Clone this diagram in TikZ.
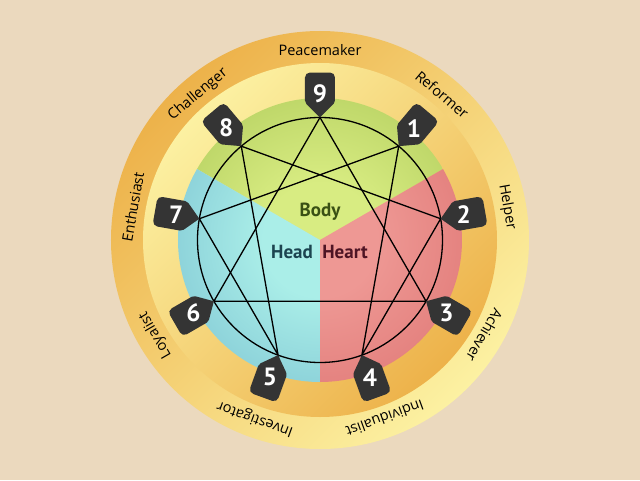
\documentclass[tikz,border=0pt]{standalone}
\usepackage{fontspec}
\setmainfont{Open Sans}
\newfontfamily\numfont{PT Sans}
\usepackage{tikz}
\usetikzlibrary{calc}

\definecolor{bgbeige}{RGB}{235,217,190}
\definecolor{ringdark}{RGB}{237,178,74}
\definecolor{ringlight}{RGB}{252,241,162}
\definecolor{bodyin}{RGB}{216,236,130}
\definecolor{bodyout}{RGB}{150,182,66}
\definecolor{heartin}{RGB}{238,152,148}
\definecolor{heartout}{RGB}{213,96,95}
\definecolor{headin}{RGB}{170,238,232}
\definecolor{headout}{RGB}{96,168,196}
\definecolor{badgegray}{RGB}{52,52,52}
\definecolor{bodytext}{RGB}{58,80,20}
\definecolor{headtext}{RGB}{28,68,80}
\definecolor{hearttext}{RGB}{78,20,36}

\pgfdeclareradialshading{bodyshade}{\pgfpoint{0bp}{0bp}}{color(0bp)=(bodyin); color(10bp)=(bodyin); color(50bp)=(bodyout)}
\pgfdeclareradialshading{heartshade}{\pgfpoint{0bp}{0bp}}{color(0bp)=(heartin); color(10bp)=(heartin); color(50bp)=(heartout)}
\pgfdeclareradialshading{headshade}{\pgfpoint{0bp}{0bp}}{color(0bp)=(headin); color(10bp)=(headin); color(50bp)=(headout)}

\begin{document}
\begin{tikzpicture}[
        x=1pt, y=1pt,
        every node/.style={align=center, inner sep=0pt},
        typelabel/.style={font=\fontsize{14.5}{16}\selectfont, text=black},
        triadword/.style={font=\numfont\bfseries\fontsize{19}{20}\selectfont},
        badge/.style={fill=badgegray},
        num/.style={text=white, font=\numfont\bfseries\fontsize{25}{26}\selectfont},
        ennealine/.style={line width=1.3pt, black}
    ]
        \useasboundingbox (-320,-240) rectangle (320,240);
        \fill[bgbeige] (-320,-240) rectangle (320,240);
        \coordinate (c) at (0,0);

        % rings
        \shade[top color=ringdark, bottom color=ringlight, shading angle=45] (c) circle (209);
        \shade[top color=ringlight, bottom color=ringdark, shading angle=45] (c) circle (177);

        % centres
        \begin{scope}
            \clip (c) -- (30:142) arc[start angle=30, end angle=150, radius=142] -- cycle;
            \shade[shading=bodyshade] (c) circle (142);
        \end{scope}
        \begin{scope}
            \clip (c) -- (-90:142) arc[start angle=-90, end angle=30, radius=142] -- cycle;
            \shade[shading=heartshade] (c) circle (142);
        \end{scope}
        \begin{scope}
            \clip (c) -- (150:142) arc[start angle=150, end angle=270, radius=142] -- cycle;
            \shade[shading=headshade] (c) circle (142);
        \end{scope}

        \node[triadword, text=bodytext] (body) at (0,28) {Body};
        \node[triadword, text=headtext] (head) at (-28,-12) {Head};
        \node[triadword, text=hearttext] (heart) at (25,-12) {Heart};

        % enneagram
        \coordinate (p9) at (90:122.5);
        \coordinate (p1) at (50:122.5);
        \coordinate (p2) at (10:122.5);
        \coordinate (p3) at (-30:122.5);
        \coordinate (p4) at (-70:122.5);
        \coordinate (p5) at (-110:122.5);
        \coordinate (p6) at (-150:122.5);
        \coordinate (p7) at (170:122.5);
        \coordinate (p8) at (130:122.5);

        \draw[ennealine] (c) circle (122.5);
        \draw[ennealine] (p9) -- (p3) -- (p6) -- cycle;
        \draw[ennealine] (p1) -- (p4) -- (p2) -- (p8) -- (p5) -- (p7) -- cycle;

        % number tags
        \fill[badge, shift={(p9)}, rotate=90] (0,0) [rounded corners=2] -- (15,-15) [rounded corners=5] -- (45,-15) -- (45,15) [rounded corners=2] -- (15,15) [sharp corners] -- cycle;
        \fill[badge, shift={(p1)}, rotate=50] (0,0) [rounded corners=2] -- (15,-15) [rounded corners=5] -- (45,-15) -- (45,15) [rounded corners=2] -- (15,15) [sharp corners] -- cycle;
        \fill[badge, shift={(p2)}, rotate=10] (0,0) [rounded corners=2] -- (15,-15) [rounded corners=5] -- (45,-15) -- (45,15) [rounded corners=2] -- (15,15) [sharp corners] -- cycle;
        \fill[badge, shift={(p3)}, rotate=-30] (0,0) [rounded corners=2] -- (15,-15) [rounded corners=5] -- (45,-15) -- (45,15) [rounded corners=2] -- (15,15) [sharp corners] -- cycle;
        \fill[badge, shift={(p4)}, rotate=-70] (0,0) [rounded corners=2] -- (15,-15) [rounded corners=5] -- (45,-15) -- (45,15) [rounded corners=2] -- (15,15) [sharp corners] -- cycle;
        \fill[badge, shift={(p5)}, rotate=-110] (0,0) [rounded corners=2] -- (15,-15) [rounded corners=5] -- (45,-15) -- (45,15) [rounded corners=2] -- (15,15) [sharp corners] -- cycle;
        \fill[badge, shift={(p6)}, rotate=-150] (0,0) [rounded corners=2] -- (15,-15) [rounded corners=5] -- (45,-15) -- (45,15) [rounded corners=2] -- (15,15) [sharp corners] -- cycle;
        \fill[badge, shift={(p7)}, rotate=170] (0,0) [rounded corners=2] -- (15,-15) [rounded corners=5] -- (45,-15) -- (45,15) [rounded corners=2] -- (15,15) [sharp corners] -- cycle;
        \fill[badge, shift={(p8)}, rotate=130] (0,0) [rounded corners=2] -- (15,-15) [rounded corners=5] -- (45,-15) -- (45,15) [rounded corners=2] -- (15,15) [sharp corners] -- cycle;

        \node[num] (n9) at (90:146) {9};
        \node[num] (n1) at (50:146) {1};
        \node[num] (n2) at (10:146) {2};
        \node[num] (n3) at (-30:146) {3};
        \node[num] (n4) at (-70:146) {4};
        \node[num] (n5) at (-110:146) {5};
        \node[num] (n6) at (-150:146) {6};
        \node[num] (n7) at (170:146) {7};
        \node[num] (n8) at (130:146) {8};

        % type names
        \node[typelabel] (lbl9) at (90:190) {Peacemaker};
        \node[typelabel, rotate=-40] (lbl1) at (50:190) {Reformer};
        \node[typelabel, rotate=-80] (lbl2) at (10:190) {Helper};
        \node[typelabel, rotate=-120] (lbl3) at (-30:190) {Achiever};
        \node[typelabel, rotate=-160] (lbl4) at (-70:190) {Individualist};
        \node[typelabel, rotate=160] (lbl5) at (-110:190) {Investigator};
        \node[typelabel, rotate=120] (lbl6) at (-150:190) {Loyalist};
        \node[typelabel, rotate=80] (lbl7) at (170:190) {Enthusiast};
        \node[typelabel, rotate=40] (lbl8) at (130:190) {Challenger};
    \end{tikzpicture}
\end{document}
